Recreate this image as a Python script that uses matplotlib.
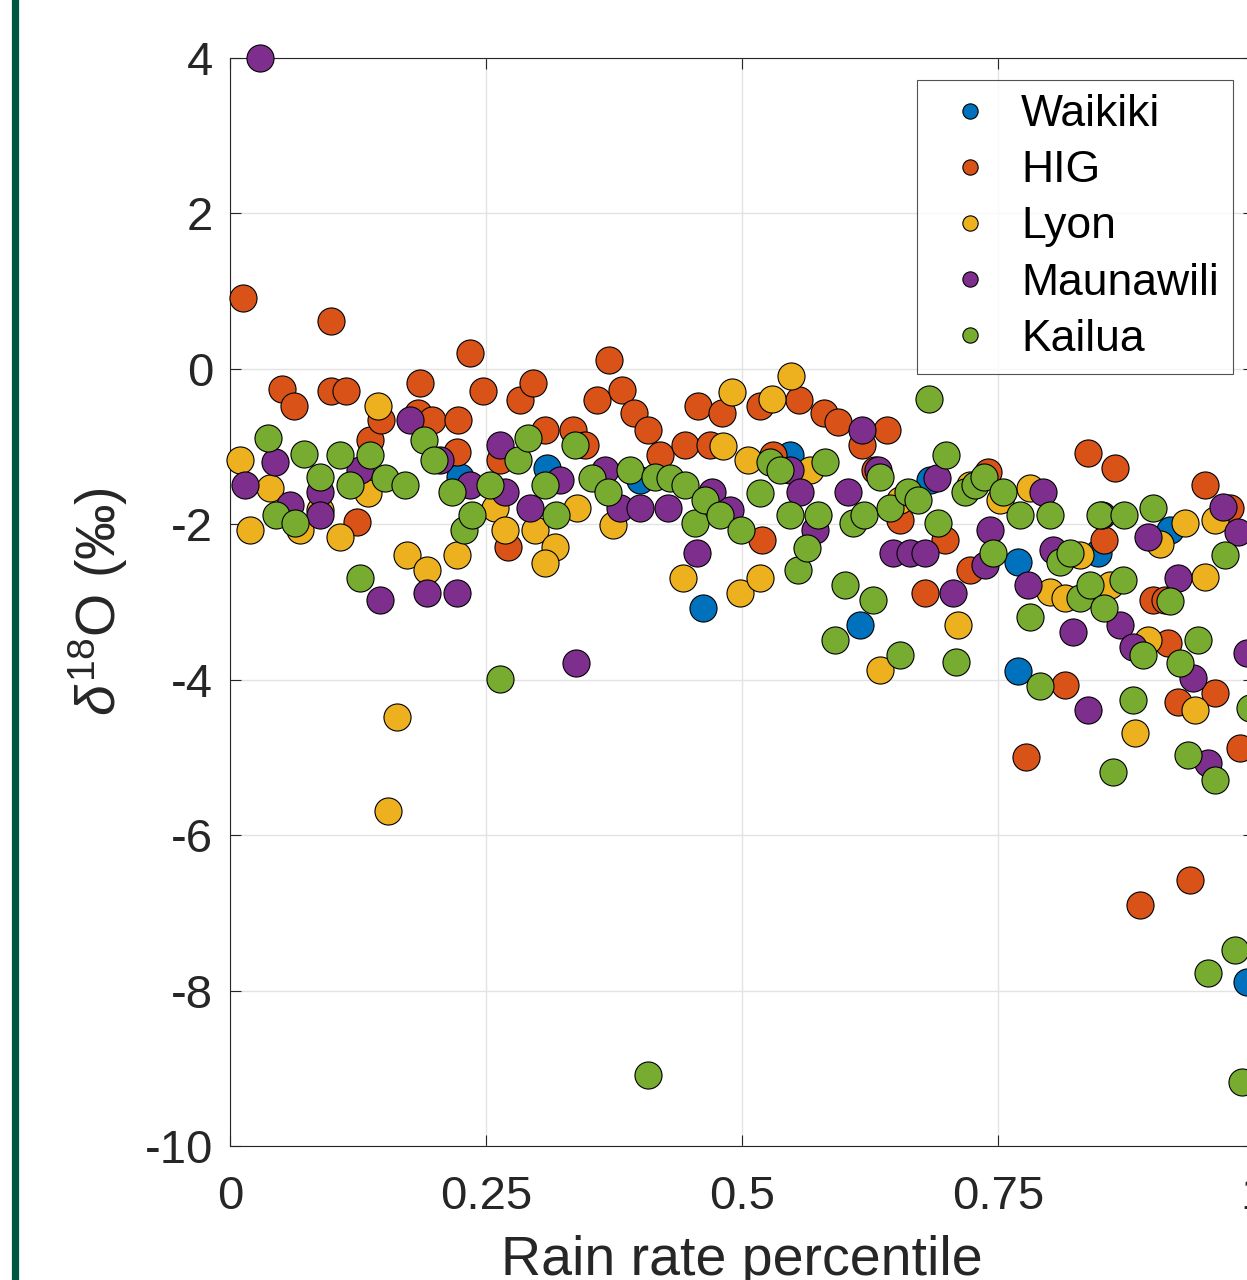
import matplotlib
matplotlib.use("Agg")
import matplotlib.pyplot as plt
from matplotlib.lines import Line2D

plt.rcParams['font.family'] = ['Liberation Sans', 'DejaVu Sans']
plt.rcParams['mathtext.fontset'] = 'custom'
plt.rcParams['mathtext.rm'] = 'Liberation Sans'
plt.rcParams['mathtext.it'] = 'Liberation Sans:italic'
plt.rcParams['axes.unicode_minus'] = False

# rain rate percentile (x) and d18O in permil (y) per site
waikiki_x = [0.225, 0.31, 0.40, 0.462, 0.547, 0.615, 0.684, 0.77, 0.77, 0.848, 0.918, 0.993]
waikiki_y = [-1.39, -1.27, -1.43, -3.08, -1.11, -3.29, -1.43, -2.48, -3.89, -2.37, -2.07, -7.89]

hig_x = [0.013, 0.051, 0.0625, 0.099, 0.099, 0.113, 0.124, 0.137, 0.147, 0.186, 0.184, 0.197,
         0.223, 0.222, 0.234, 0.247, 0.264, 0.271, 0.283, 0.296, 0.308, 0.335, 0.347, 0.358,
         0.370, 0.383, 0.395, 0.408, 0.42, 0.444, 0.457, 0.469, 0.480, 0.518, 0.52, 0.530,
         0.556, 0.580, 0.594, 0.617, 0.642, 0.63, 0.654, 0.679, 0.698, 0.723, 0.740, 0.777,
         0.815, 0.838, 0.854, 0.864, 0.889, 0.901, 0.913, 0.916, 0.926, 0.9375, 0.952, 0.962,
         0.977, 0.986]
hig_y = [0.91, -0.26, -0.48, 0.62, -0.28, -0.28, -1.97, -0.91, -0.66, -0.18, -0.57, -0.66,
         -0.66, -1.07, 0.21, -0.28, -1.17, -2.29, -0.40, -0.18, -0.79, -0.79, -0.98, -0.40,
         0.12, -0.27, -0.57, -0.79, -1.11, -0.98, -0.48, -0.98, -0.57, -0.48, -2.20, -1.11,
         -0.40, -0.57, -0.68, -0.98, -0.79, -1.30, -1.94, -2.88, -2.20, -2.59, -1.33, -4.99,
         -4.07, -1.08, -2.20, -1.27, -6.90, -2.97, -2.97, -3.53, -4.29, -6.58, -1.49, -4.17,
         -1.79, -4.88]

lyon_x = [0.010, 0.0195, 0.039, 0.068, 0.088, 0.107, 0.145, 0.135, 0.173, 0.192, 0.163, 0.154,
          0.222, 0.259, 0.269, 0.298, 0.317, 0.308, 0.339, 0.374, 0.442, 0.481, 0.490, 0.506,
          0.498, 0.518, 0.529, 0.548, 0.566, 0.635, 0.654, 0.711, 0.723, 0.752, 0.781, 0.801,
          0.815, 0.830, 0.859, 0.884, 0.896, 0.908, 0.933, 0.942, 0.952, 0.962]
lyon_y = [-1.17, -2.07, -1.53, -2.07, -1.81, -2.17, -0.48, -1.60, -2.39, -2.59, -4.48, -5.69,
          -2.39, -1.79, -2.07, -2.07, -2.29, -2.50, -1.79, -2.01, -2.69, -0.99, -0.30, -1.17,
          -2.88, -2.69, -0.39, -0.09, -1.30, -3.87, -1.69, -3.29, -1.49, -1.69, -1.53, -2.87,
          -2.95, -2.39, -2.78, -4.68, -3.49, -2.26, -1.98, -4.39, -2.68, -1.94]

maunawili_x = [0.029, 0.015, 0.044, 0.059, 0.088, 0.088, 0.127, 0.146, 0.176, 0.192, 0.222, 0.205,
               0.234, 0.264, 0.269, 0.293, 0.338, 0.322, 0.366, 0.381, 0.400, 0.428, 0.456, 0.471,
               0.488, 0.547, 0.557, 0.571, 0.604, 0.617, 0.633, 0.647, 0.664, 0.679, 0.690, 0.706,
               0.737, 0.742, 0.794, 0.779, 0.804, 0.823, 0.838, 0.852, 0.869, 0.882, 0.896, 0.926,
               0.940, 0.955, 0.970, 0.984, 0.993]
maunawili_y = [4.00, -1.49, -1.20, -1.75, -1.58, -1.88, -1.30, -2.97, -0.66, -2.88, -2.88, -1.17,
               -1.49, -0.98, -1.58, -1.79, -3.78, -1.43, -1.30, -1.79, -1.79, -1.79, -2.37, -1.58,
               -1.81, -1.30, -1.58, -2.07, -1.58, -0.79, -1.30, -2.37, -2.37, -2.37, -1.40, -2.88,
               -2.52, -2.07, -1.58, -2.78, -2.33, -3.38, -4.39, -1.88, -3.29, -3.58, -2.17, -2.69,
               -3.98, -5.07, -1.78, -2.10, -3.65]

kailua_x = [0.037, 0.045, 0.063, 0.072, 0.088, 0.107, 0.117, 0.127, 0.137, 0.151, 0.171, 0.189,
            0.199, 0.217, 0.229, 0.236, 0.254, 0.264, 0.281, 0.291, 0.308, 0.318, 0.337, 0.354,
            0.369, 0.391, 0.408, 0.415, 0.430, 0.444, 0.454, 0.464, 0.479, 0.499, 0.518, 0.527,
            0.537, 0.547, 0.555, 0.563, 0.574, 0.581, 0.591, 0.601, 0.608, 0.619, 0.628, 0.635,
            0.645, 0.654, 0.662, 0.672, 0.683, 0.691, 0.699, 0.709, 0.718, 0.728, 0.736, 0.745,
            0.755, 0.771, 0.781, 0.791, 0.801, 0.811, 0.820, 0.830, 0.840, 0.850, 0.854, 0.862,
            0.872, 0.873, 0.882, 0.892, 0.901, 0.918, 0.928, 0.936, 0.945, 0.955, 0.962, 0.972,
            0.981, 0.988, 0.996]
kailua_y = [-0.89, -1.88, -1.98, -1.09, -1.39, -1.11, -1.49, -2.69, -1.11, -1.40, -1.49, -0.91,
            -1.17, -1.58, -2.07, -1.88, -1.49, -3.99, -1.17, -0.89, -1.49, -1.88, -0.98, -1.40,
            -1.58, -1.30, -9.09, -1.39, -1.40, -1.49, -1.98, -1.69, -1.88, -2.07, -1.60, -1.20,
            -1.30, -1.88, -2.59, -2.30, -1.88, -1.20, -3.49, -2.78, -1.98, -1.88, -2.97, -1.39,
            -1.79, -3.68, -1.58, -1.69, -0.39, -1.98, -1.11, -3.77, -1.58, -1.49, -1.39, -2.37,
            -1.58, -1.88, -3.19, -4.08, -1.88, -2.48, -2.37, -2.95, -2.78, -1.88, -3.08, -5.19,
            -2.72, -1.88, -4.26, -3.68, -1.79, -2.99, -3.78, -4.97, -3.49, -7.77, -5.29, -2.39,
            -7.48, -9.18, -4.36]

sites = ['Waikiki', 'HIG', 'Lyon', 'Maunawili', 'Kailua']
colors = ['#0072BD', '#D95319', '#EDB120', '#7E2F8E', '#77AC30']
xs = [waikiki_x, hig_x, lyon_x, maunawili_x, kailua_x]
ys = [waikiki_y, hig_y, lyon_y, maunawili_y, kailua_y]

x_ticks = [0, 0.25, 0.5, 0.75, 1]
x_ticklabels = ['0', '0.25', '0.5', '0.75', '1']
y_ticks = [-10, -8, -6, -4, -2, 0, 2, 4]

fig = plt.figure(figsize=(12.47, 12.8), dpi=100)
ax = fig.add_axes([230 / 1247, 134 / 1280, 1024 / 1247, 1088 / 1280])

for x, y, c in zip(xs, ys, colors):
    ax.scatter(x, y, s=380, c=c, edgecolors='black', linewidths=0.8, clip_on=False, zorder=3)

ax.set_xlim(0, 1)
ax.set_ylim(-10, 4)
ax.set_xticks(x_ticks)
ax.set_xticklabels(x_ticklabels)
ax.set_yticks(y_ticks)
ax.grid(True, color='#e3e3e3', linewidth=1.0)
ax.set_axisbelow(True)

for sp in ax.spines.values():
    sp.set_color('#262626')
    sp.set_linewidth(0.8)
ax.tick_params(axis='both', direction='in', length=8, width=0.8, colors='#262626',
               labelsize=34, top=True, right=True)
ax.tick_params(axis='x', pad=21)
ax.tick_params(axis='y', pad=12)

ax.set_xlabel('Rain rate percentile', fontsize=40, color='#262626')
ax.xaxis.set_label_coords(0.5, -0.082)
ax.set_ylabel(r'$\delta^{18}$O (‰)', fontsize=40, color='#262626')
ax.yaxis.set_label_coords(-0.098, 0.5)

handles = [Line2D([], [], linestyle='none', marker='o', markersize=11,
                  markerfacecolor=c, markeredgecolor='black', markeredgewidth=0.8)
           for c in colors]
leg = ax.legend(handles, sites, loc='upper right', fontsize=32, frameon=True, fancybox=False,
                bbox_to_anchor=(1233 / 1247, 1 - 80 / 1280), bbox_transform=fig.transFigure,
                borderaxespad=0, labelspacing=0.34, handletextpad=0.28, borderpad=0.32,
                handlelength=1.75)
leg.get_frame().set_edgecolor('#262626')
leg.get_frame().set_linewidth(0.8)
leg.set_zorder(5)

# dark green page rule at the left edge
fig.add_artist(Line2D([14.5 / 1247, 14.5 / 1247], [0, 1], color='#00573F', linewidth=5.2,
                      transform=fig.transFigure))

fig.savefig('out.png', dpi=100)
